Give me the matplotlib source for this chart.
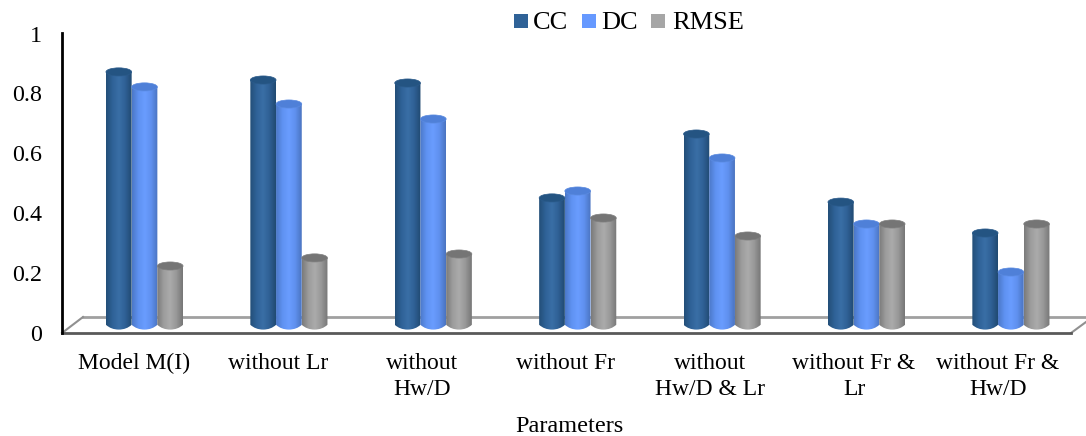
import numpy as np
import matplotlib
matplotlib.use("Agg")
import matplotlib.pyplot as plt
from matplotlib.colors import LinearSegmentedColormap
from matplotlib.patches import Ellipse, PathPatch, Rectangle
from matplotlib.path import Path

categories = ["Model M(I)", "without Lr", "without\nHw/D", "without Fr",
              "without\nHw/D & Lr", "without Fr &\nLr", "without Fr &\nHw/D"]
cc = [0.847, 0.82, 0.81, 0.427, 0.64, 0.413, 0.31]
dc = [0.797, 0.74, 0.69, 0.45, 0.56, 0.34, 0.18]
rmse = [0.2, 0.227, 0.24, 0.36, 0.3, 0.34, 0.34]
y_ticks = [0, 0.2, 0.4, 0.6, 0.8, 1]
y_labels = ["0", "0.2", "0.4", "0.6", "0.8", "1"]

W, H = 1086, 436
GROUP_PX = 144.4
X0_PX = 144.5
Y0_PX = 326
UNIT_PX = 300
BAR_W = 0.178  # in category units
ELL_H = 0.027  # ellipse height in value units


def px_x(p):
    return (p - X0_PX) / GROUP_PX


def px_y(p):
    return (Y0_PX - p) / UNIT_PX


def cylinder(ax, xc, val, shades, top_color, edge):
    cmap = LinearSegmentedColormap.from_list("c", shades)
    grad = np.linspace(0, 1, 64).reshape(1, -1)
    left, right = xc - BAR_W / 2, xc + BAR_W / 2
    base = 0.004
    k = 0.012
    im = ax.imshow(grad, cmap=cmap, aspect="auto", extent=(left, right, -k, val),
                   zorder=3, interpolation="bilinear")
    # body outline: straight sides, rounded bottom
    verts = [(left, val), (left, base), (left + BAR_W * 0.2, -k), (xc, -k),
             (right - BAR_W * 0.2, -k), (right, base), (right, val), (left, val)]
    codes = [Path.MOVETO, Path.LINETO, Path.CURVE3, Path.CURVE3,
             Path.CURVE3, Path.CURVE3, Path.LINETO, Path.CLOSEPOLY]
    body = PathPatch(Path(verts, codes), transform=ax.transData, fc="none", ec="none")
    ax.add_patch(body)
    im.set_clip_path(body)
    ax.add_patch(Ellipse((xc, val), BAR_W, ELL_H, fc=top_color, ec=edge, lw=0.5, zorder=4))


fig = plt.figure(figsize=(W / 100, H / 100), dpi=100)
ax = fig.add_axes([0, 0, 1, 1])
plt.rcParams["font.family"] = "Liberation Serif"

# floor of the 3D plot
ax.plot(px_x(np.array([83, 1086])), px_y(np.array([317, 317])), color="#a0a0a0", lw=2, zorder=1)
ax.plot(px_x(np.array([62, 83])), px_y(np.array([333, 317])), color="#909090", lw=1.5, zorder=1)
ax.plot(px_x(np.array([1071, 1086])), px_y(np.array([333, 322])), color="#909090", lw=1.5, zorder=1)
ax.plot(px_x(np.array([62, 1071])), px_y(np.array([333, 333])), color="#595959", lw=2, zorder=2)
ax.plot(px_x(np.array([61.5, 61.5])), px_y(np.array([33, 333])), color="black", lw=2, zorder=2)

series = [
    (cc, ["#234e78", "#2f6297", "#3a6fa6", "#2f6095", "#214a72"], "#245482", "#2a5a8a"),
    (dc, ["#4b78c8", "#5f92f2", "#6a9dff", "#5f90ee", "#4a74c0"], "#4f80d8", "#5a8ae0"),
    (rmse, ["#7b7b7b", "#9c9c9c", "#ababab", "#989898", "#777777"], "#757575", "#808080"),
]
for j, (vals, shades, top, edge) in enumerate(series):
    for i, v in enumerate(vals):
        cylinder(ax, i + (j - 1) * BAR_W, v, shades, top, edge)

# tick labels sit on the front plane
for t, lab in zip(y_ticks, y_labels):
    ax.text(px_x(42), px_y(335.5 - t * 299.5), lab, ha="right", va="center",
            fontsize=17.3, family="Liberation Serif")
for i, c in enumerate(categories):
    ax.text(px_x(134 + 144 * i), px_y(353), c, ha="center", va="top", fontsize=17,
            family="Liberation Serif", linespacing=1.3)
ax.text(px_x(569), px_y(426), "Parameters", ha="center", va="center", fontsize=17.5,
        family="Liberation Serif")

# legend
for lab, col, box_px, txt_px in [("CC", "#2f6297", 514, 533), ("DC", "#6699ff", 582, 601),
                                 ("RMSE", "#a6a6a6", 651, 672)]:
    ax.add_patch(Rectangle((px_x(box_px), px_y(28)), 14 / GROUP_PX, 14 / UNIT_PX, fc=col, ec="none"))
    ax.text(px_x(txt_px), px_y(23), lab, ha="left", va="center", fontsize=19,
            family="Liberation Serif")

ax.set_xlim(px_x(0), px_x(W))
ax.set_ylim(px_y(H), px_y(0))
ax.axis("off")
fig.savefig("out.png", dpi=100)
